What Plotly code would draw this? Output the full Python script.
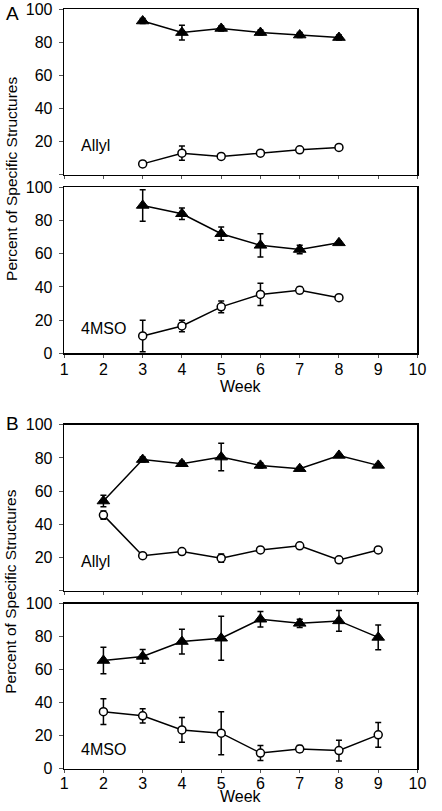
import plotly.graph_objects as go

# ---------------- data ----------------
weeks_A = [3, 4, 5, 6, 7, 8]
A_allyl_tri = [93, 86, 88.5, 86, 84.5, 83]
A_allyl_tri_err = [1.5, 4.5, 1.5, 1.5, 1.5, 1.5]
A_allyl_circ = [6.5, 13, 11, 13, 15, 16.5]
A_allyl_circ_err = [1.5, 4.3, 1.5, 1, 1, 1]
A_4mso_tri = [89, 84, 72, 65, 62.5, 66.5]
A_4mso_tri_err = [9.5, 3.5, 4, 7, 2.5, 1]
A_4mso_circ = [10.5, 16.5, 28, 35.5, 38, 33.5]
A_4mso_circ_err = [9.5, 3.5, 3.5, 6.7, 2, 1]

weeks_B = [2, 3, 4, 5, 6, 7, 8, 9]
B_allyl_tri = [54, 79, 76.5, 80.5, 75.5, 73.5, 81.5, 75.5]
B_allyl_tri_err = [3.5, 1.5, 1.5, 8.3, 1.5, 1, 1, 1]
B_allyl_circ = [45.5, 21, 23.5, 19.5, 24.5, 27, 18.5, 24.5]
B_allyl_circ_err = [2.5, 1, 1, 2.5, 1, 1, 1, 1]
B_4mso_tri = [65.5, 68, 77, 79, 90.5, 88, 89.5, 79.5]
B_4mso_tri_err = [8, 4.2, 7.5, 13.3, 4.7, 2.5, 6.3, 7.5]
B_4mso_circ = [34.5, 32, 23.5, 21.5, 9.5, 12, 11, 20.5]
B_4mso_circ_err = [7.8, 4.3, 7.5, 13, 4.5, 2, 6.3, 7.5]

x_ticks = list(range(1, 11))
y_ticks = [0, 20, 40, 60, 80, 100]
y_text_top = ["", "20", "40", "60", "80", "100"]
y_text_bot = ["0", "20", "40", "60", "80", "100"]
panel_letters = ["A", "B"]
panel_names = ["Allyl", "4MSO"]
y_title = "Percent of Specific Structures"
x_title = "Week"

FONT = "Arial, Liberation Sans, sans-serif"
W, H = 442, 811


def py(p):
    # page pixel (from top) -> paper fraction
    return 1 - p / H


def px(p):
    return p / W


fig = go.Figure()


def add_series(x, y, err, kind, axis):
    if kind == "tri":
        marker = dict(symbol="triangle-up", size=11, color="black",
                      line=dict(color="black", width=1))
    else:
        marker = dict(symbol="circle", size=8, color="white",
                      line=dict(color="black", width=1.5))
    fig.add_trace(go.Scatter(
        x=x, y=y, mode="lines+markers",
        line=dict(color="black", width=1.5),
        marker=marker,
        error_y=dict(type="data", array=err, visible=True,
                     color="black", thickness=1.5, width=3),
        xaxis="x" + axis, yaxis="y" + axis, showlegend=False,
        cliponaxis=False, hoverinfo="skip",
    ))


series = [
    (weeks_A, A_allyl_tri, A_allyl_tri_err, "tri", ""),
    (weeks_A, A_allyl_circ, A_allyl_circ_err, "circ", ""),
    (weeks_A, A_4mso_tri, A_4mso_tri_err, "tri", "2"),
    (weeks_A, A_4mso_circ, A_4mso_circ_err, "circ", "2"),
    (weeks_B, B_allyl_tri, B_allyl_tri_err, "tri", "3"),
    (weeks_B, B_allyl_circ, B_allyl_circ_err, "circ", "3"),
    (weeks_B, B_4mso_tri, B_4mso_tri_err, "tri", "4"),
    (weeks_B, B_4mso_circ, B_4mso_circ_err, "circ", "4"),
]
for x, y, e, k, a in series:
    add_series(x, y, e, k, a)

# panel boxes (top, bottom) in page pixels
boxes = [(1.5, 170.2), (183.0, 352.8), (425.7, 595.0), (608.3, 777.0)]
x0, x1 = 62, 426
xdom = [px(x0), px(x1)]

layout = dict(
    width=W, height=H, margin=dict(l=0, r=0, t=0, b=0),
    paper_bgcolor="white", plot_bgcolor="white",
    font=dict(family=FONT, size=16, color="black"),
)
for i, (t, b) in enumerate(boxes):
    suffix = "" if i == 0 else str(i + 1)
    is_bottom = i in (1, 3)
    layout["xaxis" + suffix] = dict(
        domain=xdom, range=[1, 10], anchor="y" + suffix,
        tickvals=x_ticks, showticklabels=is_bottom,
        ticks="outside", ticklen=3, tickwidth=1, tickcolor="#555",
        showline=True, linecolor="black", linewidth=1.5, mirror=True,
        showgrid=False, zeroline=False,
        tickfont=dict(size=16), ticklabelstandoff=-2 if i == 1 else -3,
    )
    layout["yaxis" + suffix] = dict(
        domain=[py(b), py(t)], range=[0, 100], anchor="x" + suffix,
        tickvals=y_ticks, ticktext=y_text_bot if is_bottom else y_text_top,
        ticks="outside", ticklen=4, tickwidth=1, tickcolor="#555",
        showline=True, linecolor="black", linewidth=1.5, mirror=True,
        showgrid=False, zeroline=False,
        tickfont=dict(size=16), ticklabelstandoff=3,
    )
fig.update_layout(**layout)

annotations = []
for letter, ypix in zip(panel_letters, [6, 424.7]):
    annotations.append(dict(text=letter, x=0, y=py(ypix), xref="paper", yref="paper",
                            xanchor="left", yanchor="middle", showarrow=False,
                            font=dict(size=19)))
for ypix, name in zip([140.1, 327.8, 565.4, 757.2], panel_names * 2):
    annotations.append(dict(text=name, x=px(77), y=py(ypix), xref="paper", yref="paper",
                            xanchor="left", yanchor="middle", showarrow=False,
                            font=dict(size=16)))
for ypix in [387, 805]:
    annotations.append(dict(text=x_title, x=px((x0 + x1) / 2), y=py(ypix),
                            xref="paper", yref="paper", xanchor="center", yanchor="middle",
                            showarrow=False, font=dict(size=16)))
for ycen in [174.8, 596.5]:
    annotations.append(dict(text=y_title, x=px(7), y=py(ycen), xref="paper", yref="paper",
                            xanchor="center", yanchor="middle", textangle=-90, showarrow=False,
                            font=dict(size=15.5)))
fig.update_layout(annotations=annotations)

fig.write_html("out.html", config={"displayModeBar": False, "staticPlot": True},
               post_script="document.body.style.margin='0px';"
                           "document.documentElement.style.overflow='hidden';")
